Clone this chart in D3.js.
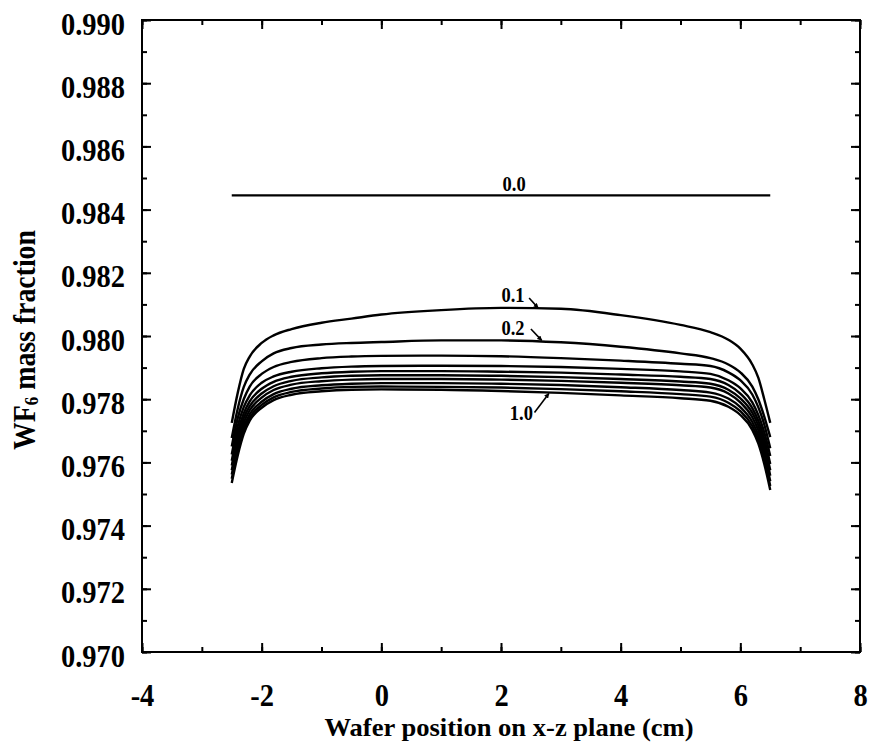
<!DOCTYPE html>
<html>
<head>
<meta charset="utf-8">
<script src="https://cdn.jsdelivr.net/npm/d3@7"></script>
<style>
  html, body { margin: 0; padding: 0; background: #fff; }
  svg { display: block; }
  text { font-family: "Liberation Serif", "Times New Roman", serif; font-weight: bold; fill: #000; }
</style>
</head>
<body>
<svg id="chart" width="873" height="742"></svg>
<script>
// Wafer positions (cm) shared by every profile
const xs = [-2.5, -2.4, -2.3, -2.2, -2.0, -1.8, -1.5, -1.0, -0.5, 0, 1, 2, 3, 4, 5, 5.5, 5.8, 6.0, 6.2, 6.3, 6.4, 6.5];

// WF6 mass fraction profiles, one per curve label
const c00 = [0.98445, 0.98445, 0.98445, 0.98445, 0.98445, 0.98445, 0.98445, 0.98445, 0.98445, 0.98445, 0.98445, 0.98445, 0.98445, 0.98445, 0.98445, 0.98445, 0.98445, 0.98445, 0.98445, 0.98445, 0.98445, 0.98445];
const c01 = [0.97725, 0.97820, 0.97895, 0.97935, 0.97978, 0.98002, 0.98022, 0.98042, 0.98055, 0.98068, 0.98082, 0.98089, 0.98086, 0.98066, 0.98035, 0.98012, 0.97988, 0.97960, 0.97910, 0.97868, 0.97800, 0.97725];
const c02 = [0.97677, 0.97770, 0.97838, 0.97878, 0.97920, 0.97945, 0.97962, 0.97973, 0.97978, 0.97981, 0.97986, 0.97986, 0.97980, 0.97966, 0.97945, 0.97930, 0.97910, 0.97885, 0.97840, 0.97800, 0.97745, 0.97680];
const c03 = [0.97650, 0.97740, 0.97800, 0.97840, 0.97880, 0.97902, 0.97918, 0.97930, 0.97935, 0.97937, 0.97938, 0.97936, 0.97930, 0.97922, 0.97912, 0.97905, 0.97885, 0.97860, 0.97815, 0.97775, 0.97720, 0.97645];
const c04 = [0.97625, 0.97715, 0.97775, 0.97812, 0.97852, 0.97872, 0.97887, 0.97898, 0.97903, 0.97905, 0.97906, 0.97905, 0.97902, 0.97896, 0.97888, 0.97880, 0.97860, 0.97835, 0.97790, 0.97750, 0.97695, 0.97620];
const c05 = [0.97605, 0.97695, 0.97755, 0.97793, 0.97833, 0.97855, 0.97871, 0.97882, 0.97887, 0.97889, 0.97889, 0.97887, 0.97884, 0.97878, 0.97871, 0.97864, 0.97845, 0.97818, 0.97772, 0.97732, 0.97675, 0.97595];
const c06 = [0.97590, 0.97678, 0.97740, 0.97778, 0.97818, 0.97841, 0.97858, 0.97869, 0.97874, 0.97876, 0.97876, 0.97874, 0.97870, 0.97864, 0.97856, 0.97849, 0.97830, 0.97803, 0.97757, 0.97717, 0.97658, 0.97575];
const c07 = [0.97575, 0.97663, 0.97726, 0.97765, 0.97805, 0.97829, 0.97846, 0.97857, 0.97862, 0.97864, 0.97864, 0.97862, 0.97858, 0.97852, 0.97844, 0.97837, 0.97818, 0.97790, 0.97743, 0.97702, 0.97642, 0.97558];
const c08 = [0.97562, 0.97648, 0.97712, 0.97752, 0.97792, 0.97816, 0.97833, 0.97844, 0.97849, 0.97851, 0.97851, 0.97849, 0.97845, 0.97838, 0.97829, 0.97821, 0.97802, 0.97775, 0.97728, 0.97687, 0.97625, 0.97540];
const c09 = [0.97548, 0.97635, 0.97700, 0.97741, 0.97782, 0.97806, 0.97823, 0.97834, 0.97839, 0.97840, 0.97839, 0.97837, 0.97832, 0.97825, 0.97816, 0.97808, 0.97789, 0.97762, 0.97715, 0.97673, 0.97610, 0.97525];
const c10 = [0.97535, 0.97622, 0.97690, 0.97732, 0.97773, 0.97797, 0.97814, 0.97825, 0.97830, 0.97831, 0.97830, 0.97826, 0.97820, 0.97812, 0.97803, 0.97795, 0.97776, 0.97750, 0.97703, 0.97660, 0.97595, 0.97513];

const seriesNames = ["0.0", "0.1", "0.2", "0.3", "0.4", "0.5", "0.6", "0.7", "0.8", "0.9", "1.0"];
const seriesValues = [c00, c01, c02, c03, c04, c05, c06, c07, c08, c09, c10];

// Axis ticks
const xTicks = [-4, -2, 0, 2, 4, 6, 8];
const xMinorTicks = [-4, -3, -2, -1, 0, 1, 2, 3, 4, 5, 6, 7, 8];
const yTicks = [0.970, 0.972, 0.974, 0.976, 0.978, 0.980, 0.982, 0.984, 0.986, 0.988, 0.990];
const yMinorTicks = [0.970, 0.971, 0.972, 0.973, 0.974, 0.975, 0.976, 0.977, 0.978, 0.979, 0.980, 0.981, 0.982, 0.983, 0.984, 0.985, 0.986, 0.987, 0.988, 0.989, 0.990];

// Curve annotations: label text position and arrow (from -> to), in data units
const labelNames = ["0.0", "0.1", "0.2", "1.0"];
const labelPos = [[2.22, 0.98482], [2.20, 0.98130], [2.20, 0.98026], [2.34, 0.97756]];
const arrowFrom = [null, [2.47, 0.98120], [2.50, 0.98022], [2.56, 0.97758]];
const arrowTo = [null, [2.62, 0.98089], [2.68, 0.97986], [2.80, 0.97818]];

const svg = d3.select("#chart");
const plotL = 142, plotR = 860, plotT = 20, plotB = 652;

const x = d3.scaleLinear().domain([-4, 8]).range([plotL, plotR]);
const y = d3.scaleLinear().domain([0.970, 0.990]).range([plotB, plotT]);

const fmtX = d => String(d).replace("\u2212", "-");
const fmtY = d3.format(".3f");

// Narrow the glyphs of a text selection to mimic a condensed Times face
function condense(sel, f) {
  sel.each(function () {
    const w = this.getComputedTextLength();
    d3.select(this).attr("textLength", w * f).attr("lengthAdjust", "spacingAndGlyphs");
  });
}

// Minor ticks on all four sides (pointing inward)
svg.append("g").attr("transform", `translate(${plotL},0)`)
  .call(d3.axisLeft(y).tickValues(yMinorTicks).tickSize(-5).tickFormat(""));
svg.append("g").attr("transform", `translate(${plotR},0)`)
  .call(d3.axisRight(y).tickValues(yMinorTicks).tickSize(-5).tickFormat(""));
svg.append("g").attr("transform", `translate(0,${plotB})`)
  .call(d3.axisBottom(x).tickValues(xMinorTicks).tickSize(-5).tickFormat(""));
svg.append("g").attr("transform", `translate(0,${plotT})`)
  .call(d3.axisTop(x).tickValues(xMinorTicks).tickSize(-5).tickFormat(""));

// Major ticks with labels
const yAxis = svg.append("g").attr("transform", `translate(${plotL},0)`)
  .call(d3.axisLeft(y).tickValues(yTicks).tickSize(-9).tickPadding(17).tickFormat(fmtY));
svg.append("g").attr("transform", `translate(${plotR},0)`)
  .call(d3.axisRight(y).tickValues(yTicks).tickSize(-9).tickFormat(""));
const xAxis = svg.append("g").attr("transform", `translate(0,${plotB})`)
  .call(d3.axisBottom(x).tickValues(xTicks).tickSize(-9).tickPadding(31).tickFormat(fmtX));
svg.append("g").attr("transform", `translate(0,${plotT})`)
  .call(d3.axisTop(x).tickValues(xTicks).tickSize(-9).tickFormat(""));

svg.selectAll(".domain").remove();
svg.selectAll(".tick line").attr("stroke", "#000").attr("stroke-width", 2);
svg.selectAll(".tick text")
  .attr("font-family", "Liberation Serif, Times New Roman, serif")
  .attr("font-weight", "bold")
  .attr("font-size", 32)
  .attr("fill", "#000");
yAxis.selectAll(".tick text").attr("dy", "0.44em");
condense(yAxis.selectAll(".tick text"), 0.89);
condense(xAxis.selectAll(".tick text"), 0.89);

// Frame
svg.append("rect")
  .attr("x", plotL).attr("y", plotT)
  .attr("width", plotR - plotL).attr("height", plotB - plotT)
  .attr("fill", "none").attr("stroke", "#000").attr("stroke-width", 2);

// Profiles
const line = d3.line()
  .x((d, i) => x(xs[i]))
  .y(d => y(d))
  .curve(d3.curveMonotoneX);

svg.append("g").selectAll("path.profile")
  .data(seriesValues)
  .join("path")
  .attr("class", "profile")
  .attr("d", d => line(d))
  .attr("fill", "none")
  .attr("stroke", "#000")
  .attr("stroke-width", 2.4)
  .attr("stroke-linejoin", "round");

// Arrowhead marker
svg.append("defs").append("marker")
  .attr("id", "head")
  .attr("viewBox", "0 0 10 10")
  .attr("refX", 9).attr("refY", 5)
  .attr("markerWidth", 5).attr("markerHeight", 5)
  .attr("markerUnits", "userSpaceOnUse")
  .attr("orient", "auto")
  .append("path").attr("d", "M0,0 L10,5 L0,10 z").attr("fill", "#000");

// Curve labels
const ann = svg.append("g");
labelNames.forEach((name, i) => {
  const t = ann.append("text")
    .attr("x", x(labelPos[i][0]))
    .attr("y", y(labelPos[i][1]))
    .attr("text-anchor", "middle")
    .attr("dominant-baseline", "central")
    .attr("font-size", 21)
    .text(name);
  condense(t, 0.88);
  if (arrowFrom[i]) {
    ann.append("line")
      .attr("x1", x(arrowFrom[i][0])).attr("y1", y(arrowFrom[i][1]))
      .attr("x2", x(arrowTo[i][0])).attr("y2", y(arrowTo[i][1]))
      .attr("stroke", "#000").attr("stroke-width", 1.6)
      .attr("marker-end", "url(#head)");
  }
});

// Axis titles
const xTitle = svg.append("text")
  .attr("x", (plotL + plotR) / 2 + 8)
  .attr("y", 735.5)
  .attr("text-anchor", "middle")
  .attr("font-size", 26)
  .text("Wafer position on x-z plane (cm)");
xTitle.attr("textLength", 369).attr("lengthAdjust", "spacingAndGlyphs");

const yTitle = svg.append("text")
  .attr("text-anchor", "middle")
  .attr("dominant-baseline", "central")
  .attr("font-size", 31);
yTitle.append("tspan").text("WF");
yTitle.append("tspan").attr("font-size", 19).attr("dy", 8).text("6");
yTitle.append("tspan").attr("dy", -8).text(" mass fraction");
const yTitleLen = yTitle.node().getComputedTextLength();
yTitle.attr("transform", `translate(24,${(plotT + plotB) / 2 + 4}) rotate(-90) scale(${220 / yTitleLen},1)`);
</script>
</body>
</html>
